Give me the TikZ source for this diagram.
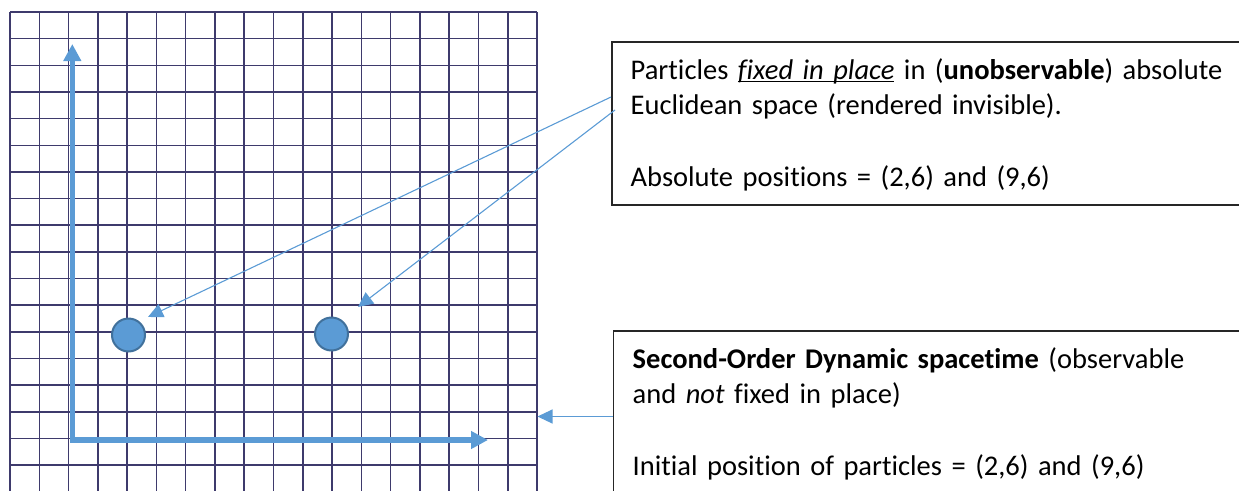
\documentclass[tikz,border=0pt]{standalone}
\usepackage{fontspec}
\setmainfont{Carlito}[Ligatures=NoCommon]
\usetikzlibrary{arrows.meta}
\definecolor{oblue}{HTML}{5B9BD5}
\definecolor{oborder}{HTML}{41719C}
\definecolor{gridc}{RGB}{62,58,108}
\newcommand{\myul}[1]{\setbox0\hbox{#1}\rlap{\rule[-3.3pt]{\wd0}{1.5pt}}\box0\relax}
\tikzset{
  gridline/.style={draw=gridc, line width=1.5pt},
  axis/.style={draw=oblue, line width=5.6pt, line join=miter,
    {Triangle[length=17pt,width=17pt]}-{Triangle[length=17pt,width=17pt]}},
  particle/.style={circle, fill=oblue, draw=oborder, line width=2pt, minimum size=33pt, inner sep=0pt},
  callout/.style={draw=oblue, line width=1.1pt, -{Triangle[length=15pt,width=14pt]}},
  box/.style={draw=black!85, line width=1.6pt, rectangle, inner sep=0pt},
  txt/.style={anchor=base west, align=left, inner sep=0pt, text width=600pt,
    font=\fontsize{28.5}{35.7}\selectfont}
}
\begin{document}
\begin{tikzpicture}[x=1pt,y=-1pt]
\useasboundingbox (0,0) rectangle (1239,490);
\clip (0,0) rectangle (1239,490);
% graph paper
\foreach \i in {0,...,18} {
  \pgfmathsetmacro{\gx}{10+29.28*\i}
  \draw[gridline] (\gx,12) -- (\gx,492);
}
\foreach \j in {0,...,17} {
  \pgfmathsetmacro{\gy}{12+26.65*\j}
  \draw[gridline] (10,\gy) -- (537,\gy);
}
% axes
\coordinate (ytip) at (72.3,44);
\coordinate (orig) at (72.3,440);
\coordinate (xtip) at (488,440);
\draw[axis] (ytip) -- (orig) -- (xtip);
% particles
\node[particle] (p1) at (128.5,335) {};
\node[particle] (p2) at (331.5,334) {};
% boxes
\node[box, anchor=north west, minimum width=632pt, minimum height=163pt] (b1) at (611,41) {};
\node[box, anchor=north west, minimum width=630pt, minimum height=200pt] (b2) at (612.7,330) {};
\node[txt] (t1) at (630.5,79) {Particles \myul{\textit{fixed in place}} in (\textbf{unobservable}) absolute\\Euclidean space (rendered invisible).\\[35.7pt]Absolute positions = (2,6) and (9,6)};
\node[txt] (t2) at (632.5,368) {\textbf{Second-Order Dynamic spacetime} (observable\\and \textit{not} fixed in place)\\[35.7pt]Initial position of particles = (2,6) and (9,6)};
% callouts
\coordinate (a1s) at (b1.west |- 0,97);
\coordinate (a1e) at (148,317);
\coordinate (a2s) at (615,110);
\coordinate (a2e) at (358,307);
\coordinate (a3s) at (b2.west |- 0,416.5);
\coordinate (a3e) at (537.5,416.5);
\draw[callout] (a1s) -- (a1e);
\draw[callout] (a2s) -- (a2e);
\draw[callout] (a3s) -- (a3e);
\end{tikzpicture}
\end{document}
